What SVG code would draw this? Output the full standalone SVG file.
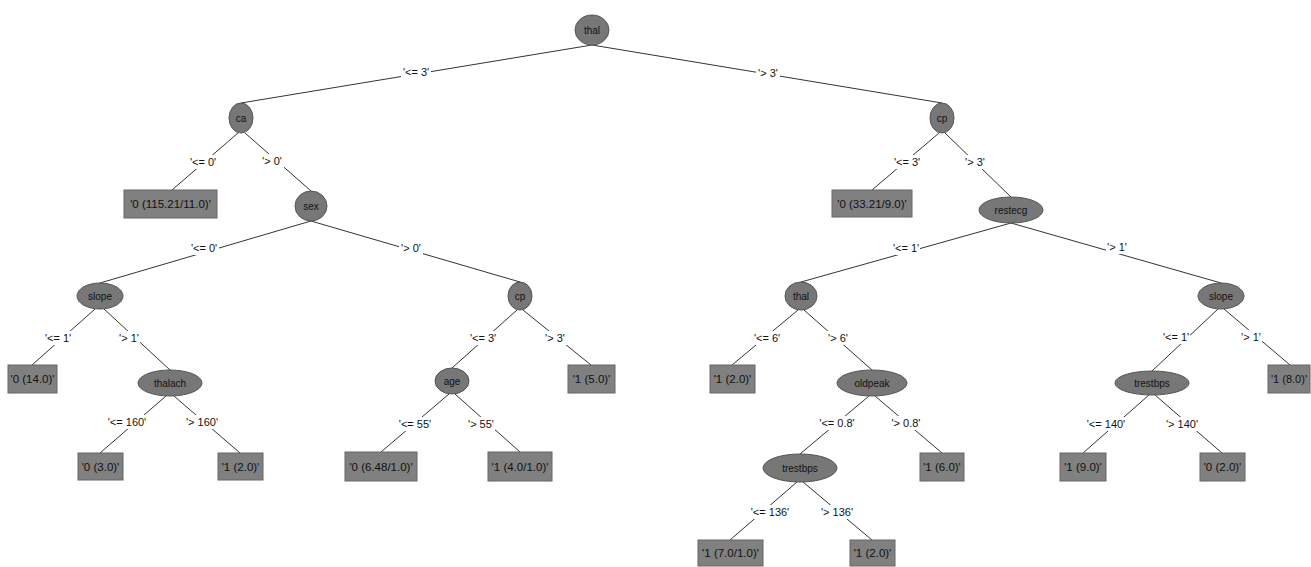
<svg xmlns="http://www.w3.org/2000/svg" width="1311" height="567" viewBox="0 0 1311 567">
<style>
text{font-family:"Liberation Sans",Arial,sans-serif;fill:#111;text-anchor:middle;dominant-baseline:central}
.n ellipse{fill:#777;stroke:#555;stroke-width:1}
.n text{font-size:10px}
.l rect{fill:#808080;stroke:#666;stroke-width:1}
.l text{font-size:11.5px}
#edges line{stroke:#333;stroke-width:1}
#edges rect{fill:#fff}
#edges text{font-size:11px}
</style>
<rect width="1311" height="567" fill="#fff"/>
<g id="edges">
<line x1="592" y1="45" x2="241" y2="103"/><rect x="401" y="65" width="30" height="14"/><text x="416" y="72">'&lt;= 3'</text>
<line x1="592" y1="45" x2="942" y2="103"/><rect x="756" y="66" width="24" height="14"/><text x="768" y="73">'&gt; 3'</text>
<line x1="238" y1="133" x2="172" y2="190"/><rect x="188" y="155" width="30" height="14"/><text x="203" y="162">'&lt;= 0'</text>
<line x1="245" y1="133" x2="311" y2="191"/><rect x="260" y="154" width="24" height="14"/><text x="272" y="161">'&gt; 0'</text>
<line x1="939" y1="133" x2="872" y2="190"/><rect x="892" y="155" width="30" height="14"/><text x="907" y="162">'&lt;= 3'</text>
<line x1="945" y1="133" x2="1011" y2="197"/><rect x="963" y="155" width="24" height="14"/><text x="975" y="162">'&gt; 3'</text>
<line x1="311" y1="221" x2="100" y2="283"/><rect x="189" y="241" width="30" height="14"/><text x="204" y="248">'&lt;= 0'</text>
<line x1="311" y1="221" x2="520" y2="282"/><rect x="399" y="241" width="24" height="14"/><text x="411" y="248">'&gt; 0'</text>
<line x1="95" y1="309" x2="32" y2="365"/><rect x="44" y="331" width="28" height="14"/><text x="58" y="338">'&lt;= 1'</text>
<line x1="104" y1="309" x2="170" y2="370"/><rect x="118" y="331" width="22" height="14"/><text x="129" y="338">'&gt; 1'</text>
<line x1="166" y1="396" x2="100" y2="453"/><rect x="108" y="415" width="38" height="14"/><text x="127" y="422">'&lt;= 160'</text>
<line x1="174" y1="396" x2="240" y2="453"/><rect x="186" y="415" width="32" height="14"/><text x="202" y="422">'&gt; 160'</text>
<line x1="517" y1="310" x2="452" y2="368"/><rect x="468" y="331" width="30" height="14"/><text x="483" y="338">'&lt;= 3'</text>
<line x1="523" y1="310" x2="591" y2="365"/><rect x="543" y="331" width="24" height="14"/><text x="555" y="338">'&gt; 3'</text>
<line x1="449" y1="394" x2="381" y2="452"/><rect x="398" y="417" width="34" height="14"/><text x="415" y="424">'&lt;= 55'</text>
<line x1="455" y1="394" x2="520" y2="452"/><rect x="467" y="417" width="28" height="14"/><text x="481" y="424">'&gt; 55'</text>
<line x1="1011" y1="223" x2="801" y2="282"/><rect x="892" y="241" width="28" height="14"/><text x="906" y="248">'&lt;= 1'</text>
<line x1="1011" y1="223" x2="1221" y2="283"/><rect x="1106" y="240" width="22" height="14"/><text x="1117" y="247">'&gt; 1'</text>
<line x1="798" y1="310" x2="732" y2="365"/><rect x="753" y="331" width="28" height="14"/><text x="767" y="338">'&lt;= 6'</text>
<line x1="804" y1="310" x2="872" y2="370"/><rect x="827" y="331" width="22" height="14"/><text x="838" y="338">'&gt; 6'</text>
<line x1="869" y1="396" x2="800" y2="454"/><rect x="818" y="416" width="38" height="14"/><text x="837" y="423">'&lt;= 0.8'</text>
<line x1="875" y1="396" x2="942" y2="453"/><rect x="890" y="416" width="32" height="14"/><text x="906" y="423">'&gt; 0.8'</text>
<line x1="797" y1="482" x2="730" y2="540"/><rect x="751" y="505" width="38" height="14"/><text x="770" y="512">'&lt;= 136'</text>
<line x1="803" y1="482" x2="872" y2="540"/><rect x="821" y="505" width="32" height="14"/><text x="837" y="512">'&gt; 136'</text>
<line x1="1218" y1="309" x2="1152" y2="371"/><rect x="1162" y="330" width="28" height="14"/><text x="1176" y="337">'&lt;= 1'</text>
<line x1="1224" y1="309" x2="1290" y2="365"/><rect x="1240" y="330" width="22" height="14"/><text x="1251" y="337">'&gt; 1'</text>
<line x1="1149" y1="395" x2="1083" y2="453"/><rect x="1087" y="417" width="38" height="14"/><text x="1106" y="424">'&lt;= 140'</text>
<line x1="1155" y1="395" x2="1222" y2="453"/><rect x="1166" y="417" width="32" height="14"/><text x="1182" y="424">'&gt; 140'</text>
</g>
<g id="n-thal" class="n"><ellipse cx="592" cy="30" rx="17" ry="15"/><text x="592" y="30">thal</text></g>
<g id="n-ca" class="n"><ellipse cx="241" cy="118" rx="12" ry="15"/><text x="241" y="118">ca</text></g>
<g id="n-cp-r" class="n"><ellipse cx="942" cy="118" rx="12" ry="15"/><text x="942" y="118">cp</text></g>
<g id="n-sex" class="n"><ellipse cx="311" cy="206" rx="16" ry="15"/><text x="311" y="206">sex</text></g>
<g id="n-restecg" class="n"><ellipse cx="1011" cy="210" rx="32" ry="13"/><text x="1011" y="210">restecg</text></g>
<g id="n-slope-l" class="n"><ellipse cx="100" cy="296" rx="23" ry="13"/><text x="100" y="296">slope</text></g>
<g id="n-cp-l" class="n"><ellipse cx="520" cy="296" rx="12" ry="14"/><text x="520" y="296">cp</text></g>
<g id="n-thal2" class="n"><ellipse cx="801" cy="296" rx="16" ry="14"/><text x="801" y="296">thal</text></g>
<g id="n-slope-r" class="n"><ellipse cx="1221" cy="296" rx="23" ry="13"/><text x="1221" y="296">slope</text></g>
<g id="n-thalach" class="n"><ellipse cx="170" cy="383" rx="32" ry="13"/><text x="170" y="383">thalach</text></g>
<g id="n-age" class="n"><ellipse cx="452" cy="381" rx="17" ry="13"/><text x="452" y="381">age</text></g>
<g id="n-oldpeak" class="n"><ellipse cx="872" cy="383" rx="35" ry="13"/><text x="872" y="383">oldpeak</text></g>
<g id="n-trestbps-r" class="n"><ellipse cx="1152" cy="383" rx="37" ry="12"/><text x="1152" y="383">trestbps</text></g>
<g id="n-trestbps" class="n"><ellipse cx="800" cy="468" rx="37" ry="14"/><text x="800" y="468">trestbps</text></g>
<g id="leaf-1" class="l"><rect x="124" y="190" width="93" height="28"/><text x="170.5" y="204">'0 (115.21/11.0)'</text></g>
<g id="leaf-2" class="l"><rect x="832" y="190" width="80" height="27"/><text x="872" y="203.5">'0 (33.21/9.0)'</text></g>
<g id="leaf-3" class="l"><rect x="8" y="365" width="49" height="28"/><text x="32.5" y="379">'0 (14.0)'</text></g>
<g id="leaf-4" class="l"><rect x="78" y="453" width="45" height="27"/><text x="100.5" y="466.5">'0 (3.0)'</text></g>
<g id="leaf-5" class="l"><rect x="218" y="453" width="45" height="27"/><text x="240.5" y="466.5">'1 (2.0)'</text></g>
<g id="leaf-6" class="l"><rect x="568" y="365" width="47" height="28"/><text x="591.5" y="379">'1 (5.0)'</text></g>
<g id="leaf-7" class="l"><rect x="345" y="452" width="72" height="29"/><text x="381" y="466.5">'0 (6.48/1.0)'</text></g>
<g id="leaf-8" class="l"><rect x="488" y="452" width="64" height="29"/><text x="520" y="466.5">'1 (4.0/1.0)'</text></g>
<g id="leaf-9" class="l"><rect x="710" y="365" width="45" height="28"/><text x="732.5" y="379">'1 (2.0)'</text></g>
<g id="leaf-10" class="l"><rect x="920" y="453" width="44" height="28"/><text x="942" y="467">'1 (6.0)'</text></g>
<g id="leaf-11" class="l"><rect x="698" y="540" width="65" height="26"/><text x="730.5" y="553">'1 (7.0/1.0)'</text></g>
<g id="leaf-12" class="l"><rect x="850" y="540" width="45" height="26"/><text x="872.5" y="553">'1 (2.0)'</text></g>
<g id="leaf-13" class="l"><rect x="1268" y="365" width="42" height="28"/><text x="1289" y="379" style="font-size:11px">'1 (8.0)'</text></g>
<g id="leaf-14" class="l"><rect x="1060" y="453" width="46" height="28"/><text x="1083" y="467">'1 (9.0)'</text></g>
<g id="leaf-15" class="l"><rect x="1200" y="453" width="45" height="28"/><text x="1222.5" y="467">'0 (2.0)'</text></g>
</svg>
